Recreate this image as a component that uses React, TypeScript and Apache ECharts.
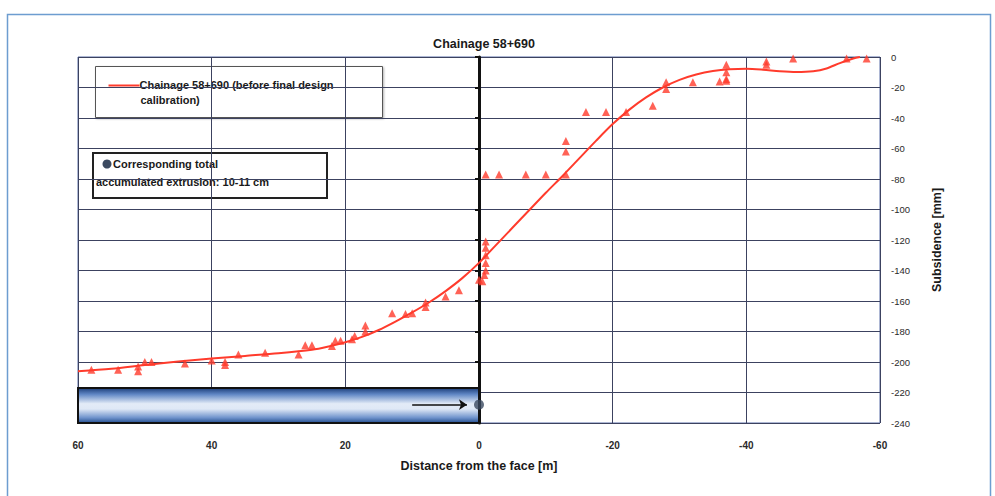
import React, { useEffect, useRef } from "react";
import * as echarts from "echarts";

// Fitted design curve (distance from face [m], subsidence [mm])
const curveX = [60, 55, 50, 45, 40, 35, 30, 25, 22.5, 20, 17.5, 15, 12.5, 10, 7.5, 5, 2.5, 0, -2.5, -5, -7.5, -10, -12.5, -15, -17.5, -20, -22.5, -25, -27.5, -30, -32.5, -35, -37.5, -40, -42.5, -45, -47.5, -50, -52, -54, -56, -57];
const curveY = [-206, -204.5, -202, -199.7, -197.7, -196, -194.3, -192, -189.8, -187, -183.5, -179, -173.5, -167.5, -161, -153.5, -145, -135, -123.5, -112, -100.5, -89, -78, -66.5, -55, -44, -34.5, -26.5, -20, -15, -11.5, -9.2, -8, -7.7, -8.3, -9.3, -9.8, -9.3, -7.5, -4, -1, 0];

// Measured points
const measX = [58, 54, 51, 51, 50, 49, 44, 40, 38, 38, 36, 32, 27, 26, 25, 22, 21.5, 20.7, 19, 18.6, 17, 17, 13, 11, 10, 8, 8, 5, 3,
  -1, -1, -1, -1, -1, -0.8, -0.5, 0,
  -1, -3, -7, -10, -13, -13, -13, -16, -19, -22, -26, -28, -28, -32, -36, -37, -37, -37, -37, -43, -43, -47, -55, -58];
const measY = [-205, -205, -206, -203, -200, -200, -201, -199, -200, -202, -195, -194, -195, -189, -189, -189.5, -186, -186, -185, -183, -180, -176, -168, -168.5, -168, -164, -161, -157, -153,
  -121, -125, -130, -135, -140, -143, -147, -146,
  -77, -77, -77, -77, -77, -55, -62, -36, -36, -36, -32, -16.5, -21, -16.5, -16, -14.5, -5, -10, -15.5, -3, -5, -1, -1, -1];

// Tunnel / extrusion annotation
const tunnelX = [60, 0];
const tunnelY = [-217, -240];
const extrusionX = 0;
const extrusionY = -228;
const arrowFromX = 10;
const arrowToX = 1.8;

const xTicks = { min: -60, max: 60, interval: 20 };
const yTicks = { min: -240, max: 0, interval: 20 };

const RED = "#ff3b2c";
const GRID = "#3c4260";
const FONT = "Liberation Sans, Arial, sans-serif";

export default function App() {
  const ref = useRef<HTMLDivElement>(null);

  useEffect(() => {
    if (!ref.current) return;
    const chart = echarts.init(ref.current, undefined, { renderer: "svg" });

    const curve = curveX.map((x, i) => [x, curveY[i]]);
    const meas = measX.map((x, i) => [x, measY[i]]);

    chart.setOption({
      animation: false,
      backgroundColor: "#ffffff",
      textStyle: { fontFamily: FONT },
      title: {
        text: "Chainage 58+690",
        left: 479,
        textAlign: "center",
        top: 32,
        textStyle: { fontSize: 12.5, fontWeight: "bold", color: "#1a1a1a", fontFamily: FONT },
      },
      grid: {
        left: 78,
        right: 115,
        top: 57,
        bottom: 73,
        show: true,
        borderColor: "#5b6fa8",
        borderWidth: 1,
        backgroundColor: "transparent",
      },
      xAxis: {
        type: "value",
        inverse: true,
        min: xTicks.min,
        max: xTicks.max,
        interval: xTicks.interval,
        name: "Distance from the face [m]",
        nameLocation: "middle",
        nameGap: 36,
        nameTextStyle: { fontSize: 12.5, fontWeight: "bold", color: "#1a1a1a", fontFamily: FONT },
        axisLine: { show: false, onZero: false },
        axisTick: { show: false },
        axisLabel: { fontSize: 10, fontWeight: "bold", color: "#2a2a2a", margin: 17, fontFamily: FONT },
        splitLine: { show: true, lineStyle: { color: GRID, width: 1 } },
      },
      yAxis: [
        {
          type: "value",
          position: "right",
          min: yTicks.min,
          max: yTicks.max,
          interval: yTicks.interval,
          name: "Subsidence [mm]",
          nameLocation: "middle",
          nameGap: 50,
          nameTextStyle: { fontSize: 12.5, fontWeight: "bold", color: "#1a1a1a", fontFamily: FONT },
          axisLine: { show: false, onZero: false },
          axisTick: { show: false },
          axisLabel: { fontSize: 9.5, color: "#2a2a2a", margin: 11, fontFamily: FONT },
          splitLine: { show: true, lineStyle: { color: GRID, width: 1 } },
        },
        {
          type: "value",
          position: "left",
          min: yTicks.min,
          max: yTicks.max,
          interval: yTicks.interval,
          axisLine: { show: true, onZero: true, lineStyle: { color: "#111", width: 3 } },
          axisTick: { show: true, length: 4, lineStyle: { color: "#111", width: 2 } },
          axisLabel: { show: false },
          splitLine: { show: false },
        },
      ],
      series: [
        {
          name: "Chainage 58+690 (before final design calibration)",
          type: "line",
          smooth: 0.3,
          showSymbol: false,
          data: curve,
          lineStyle: { color: RED, width: 2 },
          itemStyle: { color: RED },
          z: 3,
          markArea: {
            silent: true,
            itemStyle: {
              color: new echarts.graphic.LinearGradient(0, 0, 0, 1, [
                { offset: 0, color: "#1b3c78" },
                { offset: 0.18, color: "#5f86c4" },
                { offset: 0.45, color: "#e3ebf7" },
                { offset: 0.6, color: "#dfe8f6" },
                { offset: 0.85, color: "#6f93cc" },
                { offset: 1, color: "#234d8e" },
              ]),
              borderColor: "#111",
              borderWidth: 2,
            },
            data: [[{ coord: [tunnelX[0], tunnelY[0]] }, { coord: [tunnelX[1], tunnelY[1]] }]],
          },
          markLine: {
            silent: true,
            symbol: ["none", "arrow"],
            symbolSize: 8,
            label: { show: false },
            lineStyle: { color: "#111", width: 1.5, type: "solid" },
            data: [[{ coord: [arrowFromX, extrusionY] }, { coord: [arrowToX, extrusionY] }]],
          },
        },
        {
          name: "Measured",
          type: "scatter",
          symbol: "triangle",
          symbolSize: 8,
          data: meas,
          itemStyle: { color: RED },
          z: 4,
        },
        {
          name: "Corresponding total accumulated extrusion: 10-11 cm",
          type: "scatter",
          symbol: "circle",
          symbolSize: 10,
          data: [[extrusionX, extrusionY]],
          itemStyle: { color: "#3b4a60" },
          z: 6,
        },
      ],
      graphic: [
        {
          type: "rect",
          left: 5,
          top: 12,
          shape: { width: 983, height: 500 },
          style: { fill: "none", stroke: "#6d9dd0", lineWidth: 1.5 },
          silent: true,
          z: -1,
        },
        {
          type: "group",
          left: 95,
          top: 66,
          z: 10,
          children: [
            {
              type: "rect",
              shape: { x: 0, y: 0, width: 287, height: 51 },
              style: { fill: "#fff", stroke: "#555", lineWidth: 1, shadowBlur: 2, shadowColor: "rgba(0,0,0,0.3)", shadowOffsetX: 1, shadowOffsetY: 1 },
            },
            {
              type: "line",
              shape: { x1: 13, y1: 19, x2: 44, y2: 19 },
              style: { stroke: RED, lineWidth: 2 },
            },
            {
              type: "text",
              x: 44,
              y: 13,
              style: { text: "Chainage 58+690 (before final design", font: `bold 11px ${FONT}`, fill: "#1a1a1a" },
            },
            {
              type: "text",
              x: 45,
              y: 28,
              style: { text: "calibration)", font: `bold 11px ${FONT}`, fill: "#1a1a1a" },
            },
          ],
        },
        {
          type: "group",
          left: 92,
          top: 152,
          z: 10,
          children: [
            {
              type: "rect",
              shape: { x: 0, y: 0, width: 234, height: 45 },
              style: { fill: "#fff", stroke: "#222", lineWidth: 2 },
            },
            {
              type: "circle",
              shape: { cx: 14, cy: 11, r: 4.5 },
              style: { fill: "#3b4a60" },
            },
            {
              type: "text",
              x: 20,
              y: 5,
              style: { text: "Corresponding total", font: `bold 11px ${FONT}`, fill: "#1a1a1a" },
            },
            {
              type: "text",
              x: 3,
              y: 23,
              style: { text: "accumulated extrusion: 10-11 cm", font: `bold 11px ${FONT}`, fill: "#1a1a1a" },
            },
          ],
        },
      ],
    });

    return () => chart.dispose();
  }, []);

  return (
    <div
      ref={ref}
      style={{ position: "fixed", left: 0, top: 0, width: 995, height: 496, background: "#fff" }}
    />
  );
}
